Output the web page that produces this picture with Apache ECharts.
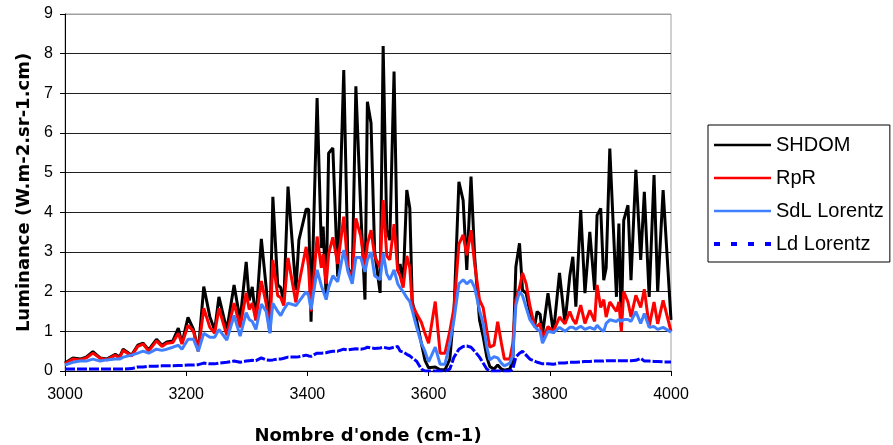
<!DOCTYPE html>
<html>
<head>
<meta charset="utf-8">
<script src="https://cdn.jsdelivr.net/npm/echarts@6/dist/echarts.min.js"></script>
<style>html,body{margin:0;padding:0;background:#fff}#c{width:893px;height:445px}</style>
</head>
<body>
<div id="c"></div>
<script>
const wavenumber = [3000,3013,3025,3035,3046,3058,3069,3083,3090,3096,3110,3120,3129,3138,3151,3160,3168,3178,3187,3193,3203,3212,3220,3229,3239,3247,3254,3267,3279,3289,3299,3304,3309,3315,3324,3332,3338,3343,3351,3356,3361,3368,3381,3386,3398,3402,3406,3416,3423,3426,3431,3435,3442,3450,3460,3467,3474,3480,3488,3495,3499,3505,3511,3520,3525,3531,3536,3543,3549,3553,3558,3564,3569,3573,3580,3588,3594,3600,3611,3619,3627,3635,3642,3650,3657,3663,3670,3676,3684,3690,3696,3701,3708,3714,3720,3725,3734,3739,3744,3750,3755,3761,3767,3775,3779,3784,3788,3797,3806,3816,3825,3833,3838,3843,3851,3858,3866,3874,3878,3884,3889,3893,3899,3910,3914,3918,3922,3929,3934,3942,3950,3956,3964,3972,3978,3987,4000];
const shdom = [0.2,0.33,0.3,0.35,0.49,0.33,0.3,0.42,0.35,0.55,0.4,0.65,0.7,0.53,0.8,0.65,0.73,0.76,1.08,0.7,1.35,1.05,0.5,2.13,1.37,1.03,1.87,1.03,2.17,1.28,2.75,1.78,2.12,1.28,3.33,2.1,0.99,4.39,2.17,2.1,1.71,4.65,2.04,3.3,4.08,4.08,1.24,6.88,3.1,3.64,1.86,5.49,5.62,2.38,7.59,2.6,2.35,7.18,4.06,1.8,6.79,6.25,3.0,1.97,8.19,3.55,3.3,7.55,2.53,2.7,2.19,4.56,4.1,1.75,1.3,0.7,0.27,0.08,0.1,0.03,0.03,0.3,1.53,4.77,4.3,2.55,4.9,2.88,1.29,0.87,0.36,0.11,0.05,0.15,0.05,0.02,0.05,0.25,2.63,3.22,2.04,1.96,1.5,1.12,1.5,1.43,0.92,1.96,0.95,2.47,1.2,2.4,2.88,1.62,4.06,1.96,3.51,2.04,3.93,4.1,2.29,2.6,5.61,1.87,3.72,1.11,3.8,4.18,2.29,5.07,2.8,4.52,1.87,4.94,2.0,4.56,1.29];
const rpr = [0.18,0.3,0.28,0.33,0.45,0.32,0.28,0.4,0.33,0.52,0.38,0.62,0.68,0.5,0.76,0.62,0.7,0.72,0.95,0.68,1.15,1.0,0.5,1.58,1.1,0.95,1.58,0.9,1.71,1.1,1.97,1.55,1.71,1.28,2.27,1.7,0.96,2.8,1.9,1.85,1.65,2.85,1.73,2.2,3.13,2.6,1.5,3.39,2.6,2.95,2.2,2.95,3.37,2.7,3.89,2.55,2.35,3.85,3.4,2.6,3.2,3.55,2.9,2.6,4.31,2.9,2.8,3.7,2.53,2.4,2.1,2.9,2.6,1.67,1.45,1.23,0.95,0.7,1.75,0.45,0.45,1.0,1.6,3.2,3.43,2.92,3.55,2.7,1.79,1.6,1.03,0.6,0.65,1.24,0.71,0.3,0.3,0.7,1.79,2.1,2.47,2.2,1.66,1.12,1.12,1.2,0.8,1.12,1.0,1.36,1.19,1.5,1.3,1.19,1.66,1.2,1.53,1.25,2.17,1.6,1.8,1.36,1.74,1.5,1.74,1.0,2.0,1.74,1.36,1.91,1.6,2.06,1.12,1.74,1.19,1.78,1.0];
const sdlLorentz = [0.15,0.22,0.25,0.25,0.3,0.25,0.28,0.3,0.3,0.35,0.4,0.45,0.5,0.45,0.55,0.52,0.55,0.6,0.65,0.55,0.8,0.8,0.5,0.95,0.85,0.85,1.05,0.78,1.4,0.88,1.47,1.3,1.25,1.05,1.69,1.5,0.95,1.71,1.5,1.4,1.55,1.71,1.65,1.75,2.0,1.9,1.55,2.55,2.15,2.2,1.8,2.1,2.4,2.25,3.05,2.5,2.2,2.86,2.86,2.5,2.8,3.0,2.4,2.3,2.97,2.45,2.3,2.55,2.2,2.1,2.0,1.85,1.75,1.53,1.12,0.7,0.5,0.23,0.6,0.17,0.17,0.7,1.3,2.2,2.3,2.2,2.29,2.1,1.53,1.2,0.61,0.28,0.36,0.33,0.2,0.13,0.2,0.38,1.66,2.0,1.9,1.6,1.3,1.12,1.05,1.0,0.7,1.0,0.97,1.1,1.0,1.1,1.1,1.05,1.13,1.05,1.1,1.05,1.15,1.05,1.0,1.2,1.29,1.25,1.3,1.25,1.3,1.3,1.25,1.5,1.2,1.45,1.1,1.12,1.05,1.1,0.98];
const ldLorentz = [0.05,0.05,0.05,0.05,0.05,0.05,0.05,0.05,0.05,0.05,0.06,0.1,0.1,0.12,0.12,0.13,0.13,0.13,0.14,0.14,0.15,0.15,0.16,0.2,0.18,0.18,0.2,0.22,0.25,0.22,0.25,0.26,0.27,0.26,0.33,0.28,0.27,0.28,0.3,0.3,0.32,0.35,0.35,0.36,0.4,0.38,0.37,0.45,0.45,0.47,0.46,0.48,0.5,0.5,0.55,0.53,0.55,0.56,0.55,0.57,0.6,0.58,0.57,0.58,0.6,0.58,0.57,0.6,0.62,0.5,0.48,0.42,0.38,0.33,0.25,0.05,0,0,0,0,0,0.05,0.35,0.55,0.62,0.63,0.6,0.5,0.35,0.2,0.05,0,0,0,0,0,0,0.05,0.35,0.45,0.5,0.4,0.3,0.25,0.22,0.2,0.18,0.18,0.17,0.2,0.2,0.22,0.22,0.22,0.23,0.24,0.24,0.25,0.25,0.25,0.25,0.26,0.26,0.26,0.26,0.26,0.26,0.26,0.26,0.27,0.32,0.25,0.25,0.24,0.24,0.23,0.23,0.22];
const xTicks = [3000, 3200, 3400, 3600, 3800, 4000];
const yTicks = [0,1,2,3,4,5,6,7,8,9];
const seriesNames = ['SHDOM', 'RpR', 'SdL Lorentz', 'Ld Lorentz'];
const seriesColors = ['#000000', '#ff0000', '#4080ff', '#0000ff'];

const pairs = ys => wavenumber.map((x, i) => [x, ys[i]]);
const font = 'Liberation Sans, Arial, sans-serif';
const titleFont = 'DejaVu Sans, sans-serif';
const solidIcon = 'path://M0,0h0.01v0.01h-0.01z M0,3.99h0.01v0.01h-0.01z M0,0.8h57v2.4h-57z';
const dashIcon = 'path://M0,0h6v4h-6z M17,0h6v4h-6z M34,0h6v4h-6z M51,0h6v4h-6z';

const chart = echarts.init(document.getElementById('c'), null, {renderer: 'canvas'});
const gridColors = yTicks.map(v => v === 9 ? '#a0a0a0' : '#202020');
chart.setOption({
  animation: false,
  backgroundColor: '#fff',
  grid: {left: 65, right: 222, top: 14, bottom: 74, show: true, borderColor: '#a0a0a0', borderWidth: 1, containLabel: false, outerBoundsMode: 'none'},
  xAxis: {
    type: 'value', min: xTicks[0], max: xTicks[xTicks.length-1], interval: 200,
    name: "Nombre d'onde (cm-1)", nameLocation: 'middle', nameGap: 56,
    nameTextStyle: {fontFamily: titleFont, fontSize: 18, fontWeight: 'bold', color: '#000'},
    axisLine: {lineStyle: {color: '#000', width: 1}},
    axisTick: {show: true, length: 5, lineStyle: {color: '#000'}},
    axisLabel: {fontFamily: font, fontSize: 16, color: '#000', margin: 16, formatter: v => String(v)},
    splitLine: {show: false}
  },
  yAxis: {
    type: 'value', min: 0, max: 9, interval: 1,
    name: 'Luminance (W.m-2.sr-1.cm)', nameLocation: 'middle', nameGap: 30,
    nameTextStyle: {fontFamily: titleFont, fontSize: 18, fontWeight: 'bold', color: '#000'},
    axisLine: {show: true, lineStyle: {color: '#000', width: 1}},
    axisTick: {show: true, length: 5, lineStyle: {color: '#000'}},
    axisLabel: {fontFamily: font, fontSize: 16, color: '#000', margin: 12, formatter: v => String(v)},
    splitLine: {show: true, lineStyle: {color: gridColors, width: 1}}
  },
  legend: {
    orient: 'vertical', left: 708, top: 125,
    padding: [10, 6, 8, 6], itemGap: 13, itemWidth: 57, itemHeight: 4,
    symbolKeepAspect: false,
    borderColor: '#000', borderWidth: 1, backgroundColor: '#fff',
    itemStyle: {borderWidth: 0},
    textStyle: {fontFamily: font, fontSize: 20, lineHeight: 20, color: '#000'},
    data: seriesNames.map((n, i) => ({name: n, icon: i === 3 ? dashIcon : solidIcon}))
  },
  series: [
    {name: seriesNames[0], type: 'line', data: pairs(shdom), showSymbol: false, symbol: 'none', lineStyle: {color: seriesColors[0], width: 3}, itemStyle: {color: seriesColors[0]}, z: 2},
    {name: seriesNames[1], type: 'line', data: pairs(rpr), showSymbol: false, symbol: 'none', lineStyle: {color: seriesColors[1], width: 3}, itemStyle: {color: seriesColors[1]}, z: 3},
    {name: seriesNames[2], type: 'line', data: pairs(sdlLorentz), showSymbol: false, symbol: 'none', lineStyle: {color: seriesColors[2], width: 3}, itemStyle: {color: seriesColors[2]}, z: 4},
    {name: seriesNames[3], type: 'line', data: pairs(ldLorentz), showSymbol: false, symbol: 'none', lineStyle: {color: seriesColors[3], width: 3, type: [10, 2]}, itemStyle: {color: seriesColors[3]}, z: 5}
  ]
});
</script>
</body>
</html>
